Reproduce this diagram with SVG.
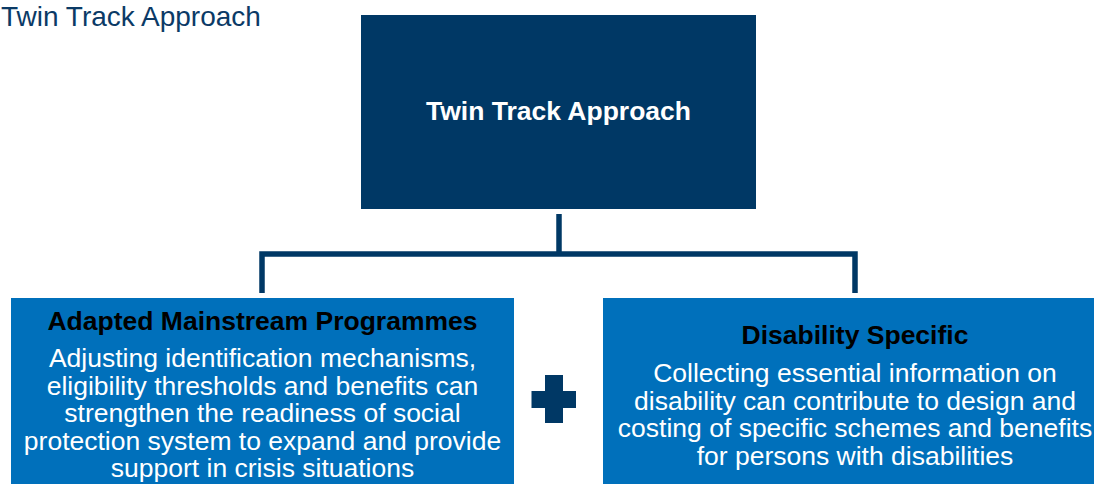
<svg xmlns="http://www.w3.org/2000/svg" width="1094" height="484" viewBox="0 0 1094 484">
<style>
.title{font-family:"Liberation Sans",Arial,sans-serif;font-size:28px;fill:#0b3a66}
.main{font-family:"Liberation Sans",Arial,sans-serif;font-size:26.5px;font-weight:bold;fill:#ffffff;text-anchor:middle}
.head{font-family:"Liberation Sans",Arial,sans-serif;font-size:26.5px;font-weight:bold;fill:#000000;text-anchor:middle}
.body{font-family:"Liberation Sans",Arial,sans-serif;font-size:26.5px;fill:#ffffff;text-anchor:middle}
.dark{fill:#003865}
.blue{fill:#0070bb}
.conn{fill:none;stroke:#003865;stroke-width:5.5;stroke-linejoin:miter}
</style>
<rect width="1094" height="484" fill="#ffffff"/>
<text class="title" x="1" y="25.5">Twin Track Approach</text>
<g id="connectors">
<path class="conn" d="M559,214 V254"/>
<path class="conn" d="M262,293 V254 H855 V293"/>
</g>
<g id="node-top">
<rect class="dark" x="361" y="15" width="395" height="194"/>
<text class="main" x="558.5" y="119.5">Twin Track Approach</text>
</g>
<g id="node-left">
<rect class="blue" x="11" y="298" width="503" height="190"/>
<text class="head" x="262.5" y="330">Adapted Mainstream Programmes</text>
<text class="body" x="262.5" y="367">Adjusting identification mechanisms,</text>
<text class="body" x="262.5" y="394.5">eligibility thresholds and benefits can</text>
<text class="body" x="262.5" y="422">strengthen the readiness of social</text>
<text class="body" x="262.5" y="449.5">protection system to expand and provide</text>
<text class="body" x="262.5" y="477">support in crisis situations</text>
</g>
<g id="node-plus">
<rect class="dark" x="545" y="375" width="18" height="48"/>
<rect class="dark" x="531.5" y="391" width="44.5" height="17"/>
</g>
<g id="node-right">
<rect class="blue" x="603" y="298" width="503" height="190"/>
<text class="head" x="855" y="343.5">Disability Specific</text>
<text class="body" x="855" y="382">Collecting essential information on</text>
<text class="body" x="855" y="409.5">disability can contribute to design and</text>
<text class="body" x="855" y="437">costing of specific schemes and benefits</text>
<text class="body" x="855" y="464.5">for persons with disabilities</text>
</g>
</svg>
